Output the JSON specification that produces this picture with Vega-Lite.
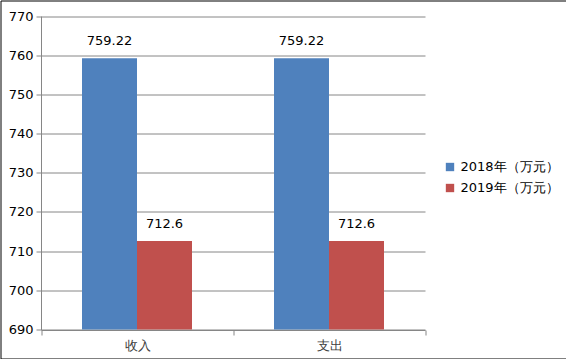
{
  "$schema": "https://vega.github.io/schema/vega-lite/v6.json",
  "width": 566,
  "height": 358,
  "padding": {"left": 0.5, "top": 0.5, "right": 0, "bottom": 0},
  "autosize": {"type": "none"},
  "background": "white",
  "data": {
    "values": [
      {"category": "收入", "series": "2018年（万元）", "value": 759.22},
      {"category": "收入", "series": "2019年（万元）", "value": 712.6},
      {"category": "支出", "series": "2018年（万元）", "value": 759.22},
      {"category": "支出", "series": "2019年（万元）", "value": 712.6}
    ]
  },
  "encoding": {
    "x": {
      "field": "category",
      "type": "nominal",
      "sort": ["收入", "支出"],
      "scale": {"range": [40.5, 424.5], "paddingInner": 0, "paddingOuter": 0},
      "axis": {
        "title": null,
        "orient": "bottom",
        "offset": -28.5,
        "labelAngle": 0,
        "tickBand": "extent",
        "ticks": true,
        "tickSize": 5,
        "tickColor": "#868686",
        "domainColor": "#868686",
        "labelColor": "#404040",
        "labelFont": "DejaVu Sans",
        "labelFontSize": 13,
        "labelPadding": 4,
        "grid": false
      }
    },
    "xOffset": {
      "field": "series",
      "type": "nominal",
      "sort": ["2018年（万元）", "2019年（万元）"],
      "scale": {"paddingInner": 0, "paddingOuter": 0.7455}
    },
    "y": {
      "field": "value",
      "type": "quantitative",
      "scale": {"domain": [690, 770], "range": [329, 15.5], "zero": false, "nice": false},
      "axis": {
        "title": null,
        "orient": "left",
        "offset": -40.5,
        "values": [690, 700, 710, 720, 730, 740, 750, 760, 770],
        "grid": true,
        "gridColor": "#868686",
        "tickColor": "#868686",
        "domainColor": "#868686",
        "tickSize": 5,
        "labelColor": "#000000",
        "labelFont": "DejaVu Sans",
        "labelFontSize": 13,
        "labelPadding": 3
      }
    }
  },
  "layer": [
    {
      "mark": {"type": "bar"},
      "encoding": {
        "y2": {"datum": 690},
        "color": {
          "field": "series",
          "type": "nominal",
          "scale": {"domain": ["2018年（万元）", "2019年（万元）"], "range": ["#4F81BD", "#C0504D"]},
          "legend": {
            "title": null,
            "orient": "none",
            "legendX": 443,
            "legendY": 160,
            "symbolType": "square",
            "symbolSize": 70,
            "symbolStrokeWidth": 0,
            "labelFont": "DejaVu Sans",
            "labelFontSize": 13,
            "labelColor": "#000000",
            "rowPadding": 7,
            "labelOffset": 4
          }
        }
      }
    },
    {
      "mark": {"type": "text", "baseline": "alphabetic", "dy": -13, "font": "DejaVu Sans", "fontSize": 13, "color": "#000000"},
      "encoding": {
        "text": {"field": "value", "type": "quantitative"}
      }
    }
  ],
  "config": {
    "view": {"stroke": "#000000", "strokeWidth": 1}
  }
}
